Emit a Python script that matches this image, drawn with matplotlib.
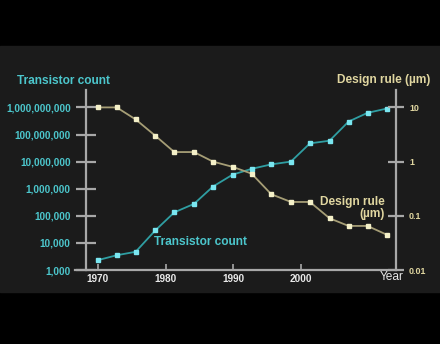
import matplotlib.pyplot as plt
import matplotlib.patches as patches
import numpy as np

plt.rcParams['font.family'] = ['Liberation Sans', 'DejaVu Sans']

# Moore's law style data: transistor count vs. design rule
years = [1970, 1972.8, 1975.6, 1978.5, 1981.3, 1984.2, 1987.0, 1989.9,
         1992.7, 1995.6, 1998.5, 2001.3, 2004.2, 2007.0, 2009.8, 2012.6]
transistors = [2300, 3500, 4700, 29000, 134000, 275000, 1.2e6, 3.3e6,
               5.4e6, 7.9e6, 1.0e7, 4.7e7, 5.9e7, 3.0e8, 6.3e8, 9.0e8]
design_rule = [10, 10, 6, 3, 1.5, 1.5, 1.0, 0.8,
               0.6, 0.25, 0.18, 0.18, 0.09, 0.065, 0.065, 0.045]

count_ticks = [1e3, 1e4, 1e5, 1e6, 1e7, 1e8, 1e9]
count_labels = ["1,000", "10,000", "100,000", "1,000,000", "10,000,000",
                "100,000,000", "1,000,000,000"]
rule_ticks = [0.01, 0.1, 1, 10]
rule_labels = ["0.01", "0.1", "1", "10"]
year_ticks = [1970, 1980, 1990, 2000]

cyan = "#4cc6cc"
cyan_line = "#2f9ea2"
cyan_mark = "#7ae6f0"
sand = "#e0d6a0"
sand_line = "#a69e76"
sand_mark = "#f4f0c8"
axis_col = "#a8a8a8"
bg = "#1b1b1b"

W, H = 440, 344
fig = plt.figure(figsize=(4.4, 3.44), dpi=100, facecolor="black")
fig.patches.append(patches.Rectangle((0, (H - 292) / H), 1, (292 - 46) / H,
                                     transform=fig.transFigure, color=bg, zorder=-10))

# axes box in pixels: x 75..396, y 90..270
x0, x1, y0, y1 = 75, 396, 90, 270
ax = fig.add_axes([x0 / W, (H - y1) / H, (x1 - x0) / W, (y1 - y0) / H])
ax.patch.set_alpha(0)

# x scale: 1970 at px 97.7, 67.8 px per decade
px_dec = 67.8
xmin = 1970 - (97.7 - x0) / px_dec * 10
xmax = xmin + (x1 - x0) / px_dec * 10
ax.set_xlim(xmin, xmax)

# left: 27.1 px per decade, right: twice that
ax.set_yscale("log")
ax.set_ylim(1e3, 10 ** (3 + (y1 - y0) / 27.1))

for s in ["top", "right"]:
    ax.spines[s].set_visible(False)
ax.spines["left"].set_position(("axes", (86 - x0) / (x1 - x0)))
for s in ["left", "bottom"]:
    ax.spines[s].set_color(axis_col)
    ax.spines[s].set_linewidth(1.6)

ax.set_yticks(count_ticks)
ax.set_yticklabels(count_labels)
ax.yaxis.set_minor_locator(plt.NullLocator())
ax.tick_params(axis="y", direction="inout", length=14, width=1.6, color=axis_col,
               labelcolor=cyan, labelsize=7.2, pad=4)
for t in ax.get_yticklabels():
    t.set_fontweight("bold")

ax.set_xticks(year_ticks)
ax.set_xticklabels([str(y) for y in year_ticks])
ax.tick_params(axis="x", direction="in", length=4.5, width=1.2, color=axis_col,
               labelcolor="#e8e8e8", labelsize=7.2, pad=3)
for t in ax.get_xticklabels():
    t.set_fontweight("bold")

ax.plot(years, transistors, color=cyan_line, lw=1.3, marker="s", ms=3.0,
        mfc=cyan_mark, mec=cyan_mark, zorder=3, clip_on=False)

ax2 = ax.twinx()
ax2.set_yscale("log")
ax2.set_ylim(1e-2, 10 ** (-2 + (y1 - y0) / 54.2))
ax2.set_xlim(xmin, xmax)
for s in ["top", "left", "bottom"]:
    ax2.spines[s].set_visible(False)
ax2.spines["right"].set_color(axis_col)
ax2.spines["right"].set_linewidth(1.6)
ax2.set_yticks(rule_ticks)
ax2.set_yticklabels(rule_labels)
ax2.yaxis.set_minor_locator(plt.NullLocator())
ax2.tick_params(axis="y", direction="inout", length=12, width=1.6, color=axis_col,
                labelcolor=sand, labelsize=6.4, pad=3.4)
for t in ax2.get_yticklabels():
    t.set_fontweight("bold")

ax2.plot(years, design_rule, color=sand_line, lw=1.3, marker="s", ms=3.0,
         mfc=sand_mark, mec=sand_mark, zorder=3, clip_on=False)

# titles above the axes
fig.text(63 / W, 1 - 80.5 / H, "Transistor count", color=cyan, fontsize=8.6,
         fontweight="bold", ha="center", va="center")
fig.text(384 / W, 1 - 79.5 / H, "Design rule (µm)", color=sand, fontsize=8.6,
         fontweight="bold", ha="center", va="center")
fig.text(392 / W, 1 - 277 / H, "Year", color="#e8e8e8", fontsize=8.6,
         ha="center", va="center")

# in-plot series labels
fig.text(200.5 / W, 1 - 241.7 / H, "Transistor count", color=cyan, fontsize=8.6,
         fontweight="bold", ha="center", va="center")
fig.text(385 / W, 1 - 202.3 / H, "Design rule", color=sand, fontsize=8.6,
         fontweight="bold", ha="right", va="center")
fig.text(385 / W, 1 - 214.5 / H, "(µm)", color=sand, fontsize=8.6,
         fontweight="bold", ha="right", va="center")

fig.savefig("out.png", dpi=100, facecolor="black")
